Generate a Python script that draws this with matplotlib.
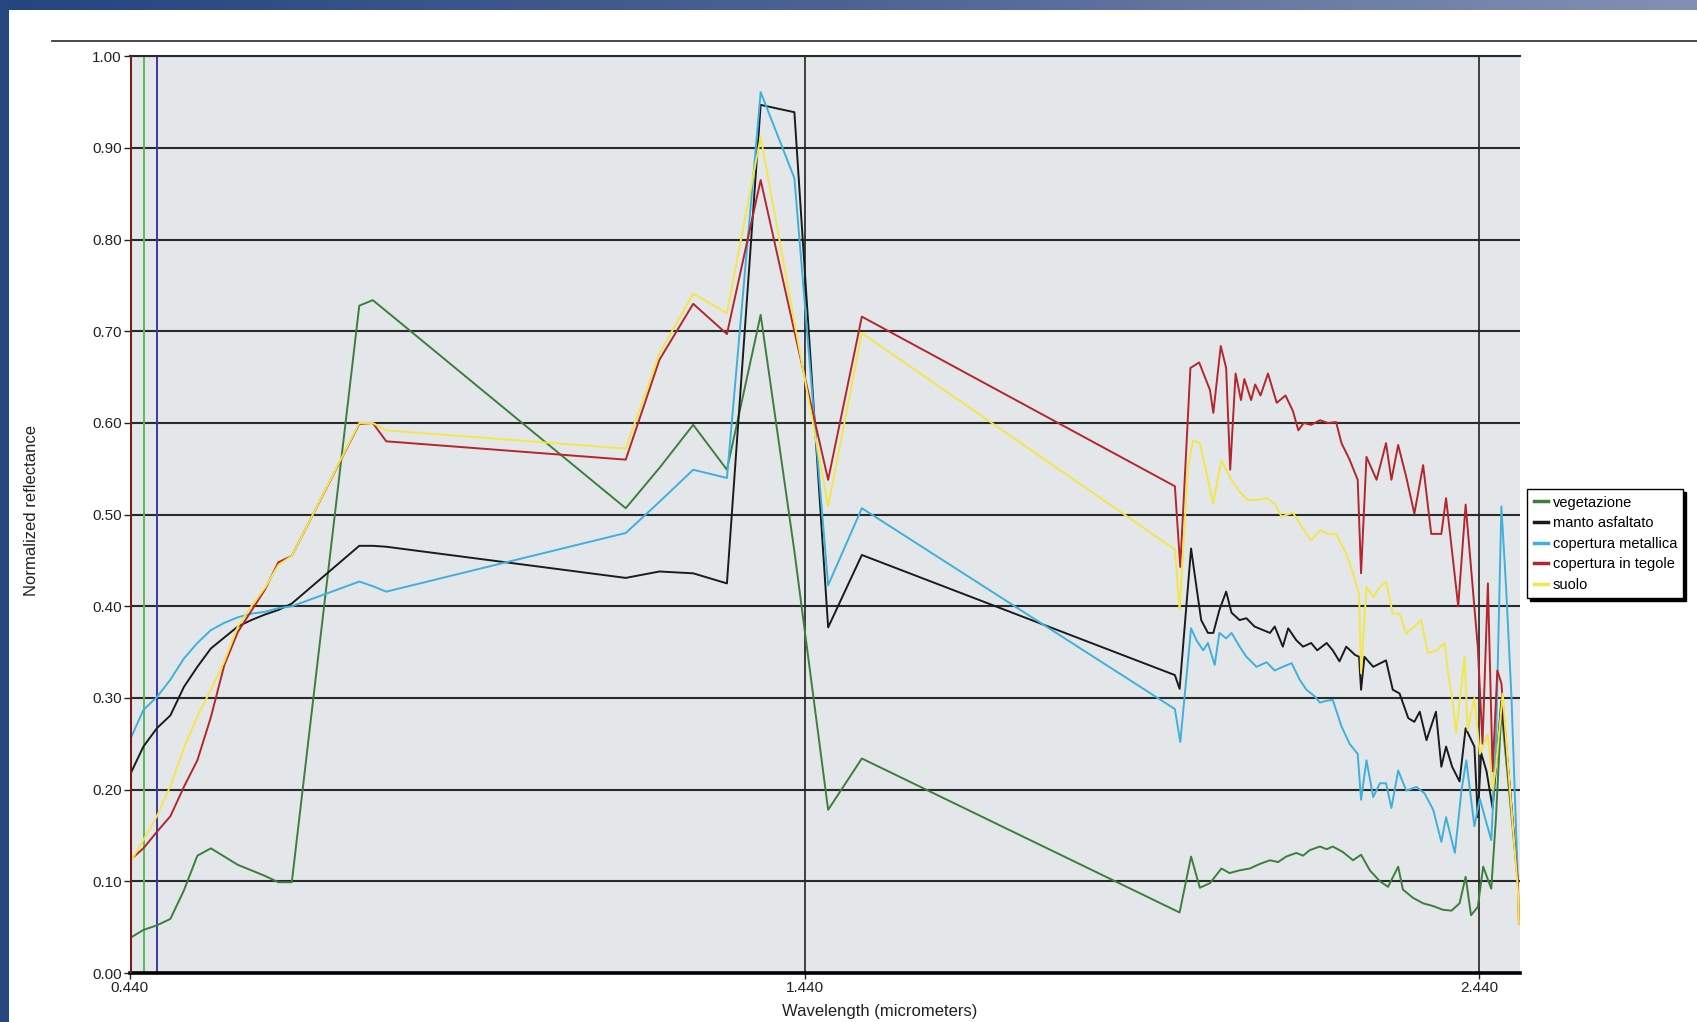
import numpy as np
import matplotlib
matplotlib.use("Agg")
import matplotlib.pyplot as plt
from matplotlib.lines import Line2D
from matplotlib.patches import Rectangle
from matplotlib.colors import LinearSegmentedColormap

plt.rcParams['font.family'] = ['Liberation Sans', 'DejaVu Sans']

# ---- data ----
# VIS + NIR band centres (micrometers), shared by all series
wl_vnir = [0.44, 0.46, 0.48, 0.50, 0.52, 0.54, 0.56, 0.58, 0.60, 0.62, 0.64, 0.66, 0.68,
           0.78, 0.80, 0.82, 1.175, 1.225, 1.275, 1.325, 1.375, 1.425, 1.475, 1.525]

veg_vnir = [0.038, 0.047, 0.052, 0.059, 0.090, 0.128, 0.136, 0.127, 0.118, 0.112, 0.106, 0.099, 0.099,
            0.728, 0.734, 0.722, 0.507, 0.551, 0.598, 0.549, 0.718, 0.460, 0.178, 0.234]
asf_vnir = [0.216, 0.247, 0.267, 0.281, 0.312, 0.334, 0.354, 0.366, 0.378, 0.385, 0.391, 0.396, 0.403,
            0.466, 0.466, 0.465, 0.431, 0.438, 0.436, 0.425, 0.947, 0.939, 0.377, 0.456]
met_vnir = [0.254, 0.287, 0.301, 0.320, 0.343, 0.360, 0.374, 0.382, 0.388, 0.392, 0.394, 0.398, 0.400,
            0.427, 0.422, 0.416, 0.480, 0.514, 0.549, 0.540, 0.961, 0.867, 0.423, 0.507]
teg_vnir = [0.123, 0.136, 0.154, 0.171, 0.203, 0.232, 0.279, 0.336, 0.372, 0.395, 0.418, 0.448, 0.455,
            0.599, 0.600, 0.580, 0.560, 0.669, 0.730, 0.697, 0.865, 0.700, 0.538, 0.716]
suo_vnir = [0.120, 0.145, 0.171, 0.204, 0.245, 0.280, 0.309, 0.340, 0.378, 0.400, 0.420, 0.445, 0.455,
            0.600, 0.600, 0.592, 0.572, 0.676, 0.741, 0.720, 0.912, 0.710, 0.509, 0.698]

# SWIR part, each series read separately
veg_swir_x = [1.996, 2.013, 2.026, 2.041, 2.058, 2.070, 2.085, 2.100, 2.115, 2.130, 2.142, 2.154,
              2.169, 2.179, 2.189, 2.204, 2.214, 2.223, 2.238, 2.253, 2.265, 2.278, 2.293, 2.305,
              2.320, 2.327, 2.342, 2.357, 2.372, 2.386, 2.399, 2.411, 2.420, 2.428, 2.438, 2.446,
              2.458, 2.465, 2.473, 2.4975]
veg_swir_y = [0.066, 0.127, 0.093, 0.098, 0.114, 0.109, 0.112, 0.114, 0.119, 0.123, 0.121, 0.127,
              0.131, 0.128, 0.134, 0.138, 0.135, 0.138, 0.132, 0.123, 0.129, 0.112, 0.100, 0.094,
              0.116, 0.091, 0.082, 0.076, 0.073, 0.069, 0.068, 0.076, 0.105, 0.063, 0.072, 0.116,
              0.092, 0.170, 0.287, 0.098]

asf_swir_x = [1.989, 1.996, 2.013, 2.021, 2.028, 2.038, 2.046, 2.055, 2.065, 2.073, 2.085, 2.095,
              2.107, 2.120, 2.130, 2.137, 2.149, 2.157, 2.169, 2.179, 2.191, 2.200, 2.214, 2.223,
              2.233, 2.243, 2.256, 2.262, 2.265, 2.270, 2.283, 2.302, 2.312, 2.322, 2.335, 2.344,
              2.352, 2.362, 2.376, 2.384, 2.391, 2.400, 2.411, 2.420, 2.433, 2.438, 2.443, 2.451,
              2.460, 2.473, 2.485, 2.4975]
asf_swir_y = [0.325, 0.310, 0.463, 0.421, 0.385, 0.371, 0.371, 0.396, 0.416, 0.393, 0.385, 0.387,
              0.378, 0.374, 0.371, 0.378, 0.356, 0.376, 0.363, 0.356, 0.360, 0.352, 0.360, 0.352,
              0.340, 0.356, 0.347, 0.345, 0.309, 0.345, 0.334, 0.341, 0.309, 0.305, 0.278, 0.274,
              0.285, 0.254, 0.285, 0.225, 0.247, 0.225, 0.209, 0.267, 0.247, 0.170, 0.240, 0.220,
              0.180, 0.297, 0.207, 0.098]

met_swir_x = [1.989, 1.997, 2.013, 2.021, 2.031, 2.038, 2.048, 2.055, 2.065, 2.073, 2.085, 2.095,
              2.110, 2.125, 2.137, 2.149, 2.162, 2.174, 2.184, 2.196, 2.204, 2.214, 2.223, 2.236,
              2.248, 2.260, 2.265, 2.273, 2.283, 2.293, 2.302, 2.310, 2.320, 2.332, 2.347, 2.359,
              2.372, 2.384, 2.391, 2.404, 2.414, 2.421, 2.433, 2.441, 2.458, 2.465, 2.473, 2.480,
              2.488, 2.4975]
met_swir_y = [0.288, 0.252, 0.376, 0.363, 0.352, 0.360, 0.336, 0.371, 0.365, 0.371, 0.356, 0.345,
              0.334, 0.339, 0.330, 0.334, 0.338, 0.320, 0.309, 0.302, 0.295, 0.297, 0.298, 0.269,
              0.250, 0.239, 0.189, 0.232, 0.192, 0.207, 0.207, 0.180, 0.221, 0.199, 0.203, 0.196,
              0.178, 0.143, 0.170, 0.131, 0.200, 0.232, 0.160, 0.190, 0.145, 0.250, 0.509, 0.420,
              0.300, 0.098]

teg_swir_x = [1.989, 1.997, 2.012, 2.025, 2.041, 2.046, 2.057, 2.065, 2.071, 2.079, 2.087, 2.092,
              2.102, 2.108, 2.116, 2.127, 2.140, 2.153, 2.164, 2.172, 2.180, 2.191, 2.204, 2.216,
              2.228, 2.236, 2.248, 2.260, 2.265, 2.273, 2.288, 2.302, 2.310, 2.320, 2.332, 2.344,
              2.357, 2.369, 2.384, 2.391, 2.409, 2.420, 2.438, 2.445, 2.453, 2.460, 2.467, 2.473,
              2.480, 2.4975, 2.499]
teg_swir_y = [0.531, 0.443, 0.660, 0.666, 0.636, 0.611, 0.684, 0.660, 0.549, 0.654, 0.625, 0.648,
              0.625, 0.642, 0.630, 0.654, 0.622, 0.630, 0.613, 0.592, 0.600, 0.598, 0.603, 0.600,
              0.601, 0.578, 0.560, 0.538, 0.436, 0.563, 0.538, 0.578, 0.538, 0.576, 0.541, 0.501,
              0.554, 0.479, 0.479, 0.518, 0.400, 0.511, 0.356, 0.250, 0.425, 0.220, 0.330, 0.316,
              0.250, 0.098, 0.054]

suo_swir_x = [1.989, 1.996, 2.0085, 2.016, 2.026, 2.036, 2.0455, 2.058, 2.065, 2.073, 2.085, 2.097,
              2.110, 2.125, 2.137, 2.147, 2.164, 2.177, 2.191, 2.204, 2.216, 2.228, 2.243, 2.253,
              2.262, 2.265, 2.273, 2.283, 2.293, 2.302, 2.312, 2.322, 2.332, 2.344, 2.354, 2.364,
              2.377, 2.389, 2.394, 2.400, 2.406, 2.4185, 2.423, 2.433, 2.441, 2.453, 2.460, 2.465,
              2.475, 2.483, 2.4975, 2.499]
suo_swir_y = [0.462, 0.396, 0.552, 0.581, 0.578, 0.545, 0.512, 0.559, 0.549, 0.538, 0.525, 0.516,
              0.516, 0.518, 0.512, 0.498, 0.502, 0.487, 0.472, 0.483, 0.479, 0.479, 0.458, 0.436,
              0.414, 0.327, 0.421, 0.410, 0.421, 0.427, 0.392, 0.392, 0.370, 0.378, 0.385, 0.349,
              0.352, 0.360, 0.327, 0.300, 0.262, 0.345, 0.265, 0.300, 0.239, 0.260, 0.200, 0.225,
              0.305, 0.225, 0.090, 0.054]

labels = ["vegetazione", "manto asfaltato", "copertura metallica", "copertura in tegole", "suolo"]
colors = ["#3c7f3c", "#1b1b1b", "#3fb0dc", "#b3262b", "#f2e64a"]

series = [
    (wl_vnir + veg_swir_x, veg_vnir + veg_swir_y),
    (wl_vnir + asf_swir_x, asf_vnir + asf_swir_y),
    (wl_vnir + met_swir_x, met_vnir + met_swir_y),
    (wl_vnir + teg_swir_x, teg_vnir + teg_swir_y),
    (wl_vnir + suo_swir_x, suo_vnir + suo_swir_y),
]

# ---- figure ----
W, H = 1697, 1022
fig = plt.figure(figsize=(W / 100, H / 100), dpi=100, facecolor="white")

# blue frame: gradient bar on top, solid strip on the left
bar = fig.add_axes([0, 1 - 10 / H, 1, 10 / H])
grad = np.linspace(0, 1, 256).reshape(1, -1)
cmap = LinearSegmentedColormap.from_list("bar", ["#24457f", "#4d6394", "#8490b3"])
bar.imshow(grad, aspect="auto", cmap=cmap, extent=[0, 1, 0, 1])
bar.set_axis_off()
fig.patches.append(Rectangle((0, 0), 9 / W, 1, transform=fig.transFigure,
                             facecolor="#26467f", edgecolor="none", zorder=5))
fig.lines.append(Line2D([52 / W, 1], [1 - 41 / H, 1 - 41 / H], transform=fig.transFigure,
                        color="#3a3a3a", lw=1.3))

ax = fig.add_axes([129.9 / W, 1 - 973 / H, (1519.6 - 129.9) / W, (973 - 56.3) / H])
ax.set_facecolor("#e4e7ea")
ax.set_xlim(0.44, 2.50)
ax.set_ylim(0, 1.0)

for (x, y), c, lab in zip(series, colors, labels):
    ax.plot(x, y, color=c, lw=1.4, label=lab, zorder=3)

ax.set_yticks(np.arange(0, 1.01, 0.1))
ax.set_yticklabels([f"{v:.2f}" for v in np.arange(0, 1.01, 0.1)])
ax.set_xticks([0.44, 1.44, 2.44])
ax.set_xticklabels(["0.440", "1.440", "2.440"])
ax.tick_params(axis="both", labelsize=11, length=4, width=1, pad=2, colors="#222222")
ax.grid(axis="y", color="#2a2a2a", lw=1.5, zorder=1)
for xv in [1.44, 2.44]:
    ax.axvline(xv, color="#111111", lw=1.1, zorder=1)

# coloured band markers at the left edge
ax.axvline(0.44, color="#7a1a1a", lw=2.2, zorder=4)
ax.axvline(0.461, color="#5cb85c", lw=1.4, zorder=2)
ax.axvline(0.48, color="#3a3aa0", lw=1.4, zorder=2)

for s in ["left", "right"]:
    ax.spines[s].set_visible(False)
ax.spines["top"].set_color("#2a2a2a")
ax.spines["top"].set_linewidth(1.5)
ax.spines["bottom"].set_color("black")
ax.spines["bottom"].set_linewidth(2.6)

fig.text(32 / W, 1 - 510 / H, "Normalized reflectance", rotation=90, ha="center", va="center",
         fontsize=12, color="#222222")
fig.text(880 / W, 1 - 1011 / H, "Wavelength (micrometers)", ha="center", va="center",
         fontsize=12, color="#222222")

leg = fig.legend(loc="upper left", bbox_to_anchor=(1527 / W, 1 - 489 / H), fontsize=10.5,
                 frameon=True, fancybox=False, shadow={"color": "black", "alpha": 1},
                 handlelength=1.0, handletextpad=0.3, labelspacing=0.45, borderpad=0.45,
                 borderaxespad=0)
leg.get_frame().set_edgecolor("black")
leg.get_frame().set_linewidth(1.0)
for h in leg.get_lines():
    h.set_linewidth(2.5)

fig.savefig("out.png", dpi=100)
